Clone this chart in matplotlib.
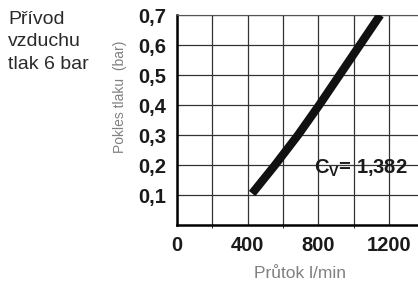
import matplotlib
matplotlib.use("Agg")
import matplotlib.pyplot as plt

plt.rcParams["font.family"] = ["Liberation Sans", "DejaVu Sans"]
plt.rcParams["mathtext.fontset"] = "custom"
plt.rcParams["mathtext.bf"] = "Liberation Sans:bold"
plt.rcParams["mathtext.rm"] = "Liberation Sans"

# flow (l/min) vs pressure drop (bar)
flow = [425, 555, 685, 805, 920, 1035, 1150]
drop = [0.105, 0.20, 0.30, 0.40, 0.50, 0.60, 0.70]

x_ticks = [0, 400, 800, 1200]
y_ticks = [0.1, 0.2, 0.3, 0.4, 0.5, 0.6, 0.7]
y_labels = ["0,1", "0,2", "0,3", "0,4", "0,5", "0,6", "0,7"]

W, H = 418, 284
fig = plt.figure(figsize=(W / 100, H / 100), dpi=100)
ax = fig.add_axes([177 / W, 59 / H, 247.4 / W, 210 / H])

ax.set_xlim(0, 1400)
ax.set_ylim(0, 0.7)
ax.set_xticks(range(200, 1400, 200), minor=True)
ax.set_xticks(x_ticks)
ax.set_yticks(y_ticks)
ax.set_yticklabels(y_labels)
ax.grid(True, which="both", color="#333333", lw=0.9)
ax.set_axisbelow(True)
ax.tick_params(length=0, pad=8, labelsize=14.5, labelcolor="#1a1a1a")
for lab in ax.get_xticklabels() + ax.get_yticklabels():
    lab.set_fontweight("bold")

ax.spines["left"].set_linewidth(1.8)
ax.spines["bottom"].set_linewidth(1.8)
ax.spines["top"].set_color("#555555")
ax.spines["right"].set_visible(False)

ax.plot(flow, drop, color="#111111", lw=6, solid_capstyle="butt",
        solid_joinstyle="round", zorder=3)

ax.text(778, 0.19, r"$\mathbf{C_V}$= 1,382", fontsize=14.5, fontweight="bold",
        color="#1a1a1a", va="center", ha="left")

fig.text(8 / W, 1 - 11 / H, "Přívod\nvzduchu\ntlak 6 bar", fontsize=14,
         color="#2a2a2a", va="top", ha="left", linespacing=1.42)
fig.text(120 / W, 1 - 97 / H, "Pokles tlaku  (bar)", rotation=90, fontsize=10,
         color="#808080", va="center", ha="center")
fig.text(300 / W, 1 - 273 / H, "Průtok l/min", fontsize=12.5,
         color="#808080", va="center", ha="center")

fig.savefig("out.png", dpi=100)
